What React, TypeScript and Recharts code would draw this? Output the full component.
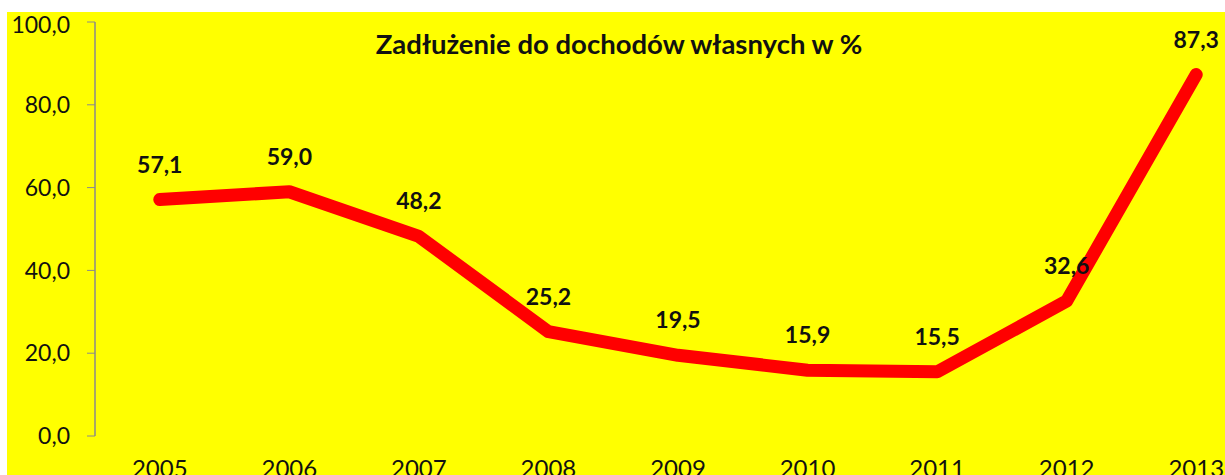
import { LineChart, Line, XAxis, YAxis, LabelList } from 'recharts'

const years = ['2005', '2006', '2007', '2008', '2009', '2010', '2011', '2012', '2013']
const debtRatio = [57.1, 59.0, 48.2, 25.2, 19.5, 15.9, 15.5, 32.6, 87.3]
const yTicks = [0, 20, 40, 60, 80, 100]

const data = years.map((y, i) => ({ idx: i, year: y, v: debtRatio[i] }))
// Excel-style tick marks sit between categories
const boundaryTicks = years.map((_, i) => i - 0.5).concat(years.length - 0.5)
const centerTicks = years.map((_, i) => i)

const fmt = (n: number) => Number(n).toFixed(1).replace('.', ',')
const font = 'Lato, "Noto Sans", sans-serif'
const axisGrey = '#8a8a8a'

export default function App() {
  return (
    <div style={{ width: 1225, height: 475, overflow: 'hidden', background: '#fff' }}>
      <style>{'body{margin:0;overflow:hidden}'}</style>
      <div
        style={{
          position: 'relative',
          marginLeft: 7,
          marginTop: 12,
          width: 1218,
          height: 463,
          overflow: 'hidden',
          background: '#ffff00',
          fontFamily: font,
        }}
      >
        <div
          style={{
            position: 'absolute',
            left: 312,
            top: 17,
            width: 600,
            textAlign: 'center',
            fontWeight: 700,
            fontSize: 27.5,
            lineHeight: '30px',
            color: '#111',
            zIndex: 2,
          }}
        >
          Zadłużenie do dochodów własnych w %
        </div>
        <LineChart width={1270} height={463} data={data} margin={{ top: 10, right: 16, bottom: 0, left: 0 }}>
          <XAxis
            xAxisId="marks"
            dataKey="idx"
            type="number"
            domain={[-0.5, years.length - 0.5]}
            ticks={boundaryTicks}
            tick={false}
            tickSize={6}
            height={0}
            stroke={axisGrey}
            axisLine={{ stroke: axisGrey, strokeWidth: 1.5 }}
          />
          <XAxis
            xAxisId="labels"
            dataKey="idx"
            type="number"
            domain={[-0.5, years.length - 0.5]}
            ticks={centerTicks}
            tickFormatter={(i) => years[i] ?? ''}
            axisLine={false}
            tickLine={false}
            tickSize={0}
            tickMargin={24}
            height={39}
            tick={{ fill: '#111', fontSize: 24, fontFamily: font }}
            interval={0}
          />
          <YAxis
            domain={[0, 100]}
            ticks={yTicks}
            tickFormatter={fmt}
            width={88}
            tickSize={8}
            tickMargin={17}
            stroke={axisGrey}
            axisLine={{ stroke: axisGrey, strokeWidth: 1.5 }}
            tick={{ fill: '#111', fontSize: 23, fontFamily: font }}
          />
          <Line
            xAxisId="marks"
            type="linear"
            dataKey="v"
            stroke="#ff0000"
            strokeWidth={13}
            strokeLinecap="round"
            strokeLinejoin="round"
            dot={false}
            activeDot={false}
            isAnimationActive={false}
          >
            <LabelList
              dataKey="v"
              position="top"
              offset={27}
              formatter={(v: any) => fmt(v)}
              style={{ fill: '#111', fontSize: 23, fontWeight: 700, fontFamily: font }}
            />
          </Line>
        </LineChart>
      </div>
    </div>
  )
}
